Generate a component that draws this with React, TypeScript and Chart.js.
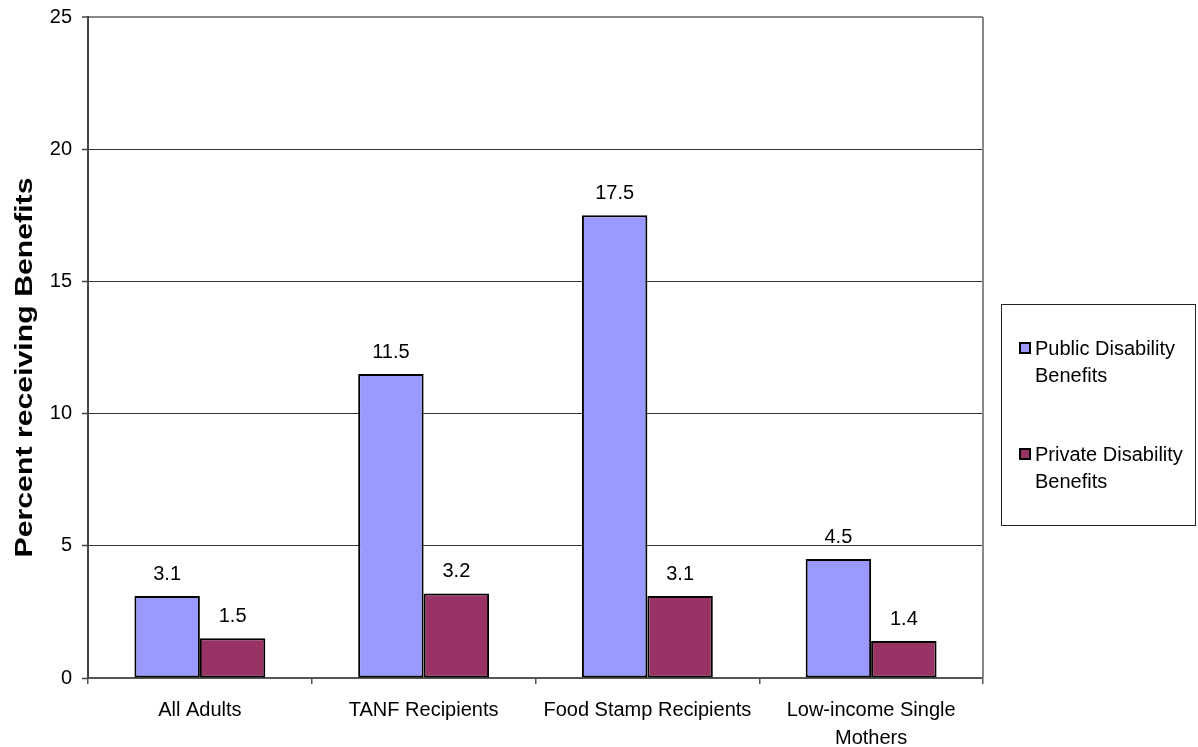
import React, { useEffect, useRef } from "react";
import { Chart, registerables } from "chart.js";

Chart.register(...registerables);

const categories: (string | string[])[] = [
  "All Adults",
  "TANF Recipients",
  "Food Stamp Recipients",
  ["Low-income Single", "Mothers"],
];
const publicBenefits = [3.1, 11.5, 17.5, 4.5];
const privateBenefits = [1.5, 3.2, 3.1, 1.4];
const seriesNames = ["Public Disability Benefits", "Private Disability Benefits"];
const legendLines = [
  ["Public Disability", "Benefits"],
  ["Private Disability", "Benefits"],
];
const seriesColors = ["#9999FF", "#993366"];
const yTitle = "Percent receiving Benefits";
const yMin = 0;
const yMax = 25;
const yStep = 5;

const FONT = "'Liberation Sans', Arial, sans-serif";

export default function App() {
  const canvasRef = useRef<HTMLCanvasElement | null>(null);

  useEffect(() => {
    const canvas = canvasRef.current;
    if (!canvas) return;

    const extras = {
      id: "extras",
      afterDatasetsDraw(chart: any) {
        const ctx = chart.ctx;
        const area = chart.chartArea;
        ctx.save();
        // right border of plot area
        ctx.strokeStyle = "#888";
        ctx.lineWidth = 2;
        ctx.beginPath();
        ctx.moveTo(area.right, area.top);
        ctx.lineTo(area.right, area.bottom);
        ctx.stroke();
        // data labels
        ctx.fillStyle = "#000";
        ctx.font = `20px ${FONT}`;
        ctx.textAlign = "center";
        ctx.textBaseline = "alphabetic";
        chart.data.datasets.forEach((ds: any, di: number) => {
          const meta = chart.getDatasetMeta(di);
          meta.data.forEach((bar: any, i: number) => {
            ctx.fillText(String(ds.data[i]), bar.x, bar.y - 16);
          });
        });
        ctx.restore();
      },
      afterDraw(chart: any) {
        const ctx = chart.ctx;
        const area = chart.chartArea;
        ctx.save();
        // y axis title, rotated
        ctx.font = `bold 24px ${FONT}`;
        ctx.fillStyle = "#000";
        const w = ctx.measureText(yTitle).width;
        const targetLen = 380;
        const cy = (area.top + area.bottom) / 2 + 20;
        ctx.translate(32, cy);
        ctx.rotate(-Math.PI / 2);
        ctx.scale(targetLen / w, 1);
        ctx.textAlign = "center";
        ctx.textBaseline = "alphabetic";
        ctx.fillText(yTitle, 0, 0);
        ctx.restore();

        // legend
        ctx.save();
        ctx.strokeStyle = "#222";
        ctx.lineWidth = 1;
        ctx.strokeRect(1001.5, 304.5, 194, 221);
        ctx.font = `20px ${FONT}`;
        ctx.textAlign = "left";
        ctx.textBaseline = "alphabetic";
        const itemTops = [343, 449];
        chart.data.datasets.forEach((ds: any, di: number) => {
          const top = itemTops[di];
          ctx.fillStyle = ds.backgroundColor;
          ctx.fillRect(1020, top, 10, 10);
          ctx.strokeStyle = "#000";
          ctx.lineWidth = 2;
          ctx.strokeRect(1020, top, 10, 10);
          ctx.fillStyle = "#000";
          legendLines[di].forEach((line, li) => {
            ctx.fillText(line, 1035, top + 12 + li * 27);
          });
        });
        ctx.restore();
      },
    };

    const chart = new Chart(canvas, {
      type: "bar",
      data: {
        labels: categories,
        datasets: [
          {
            label: seriesNames[0],
            data: publicBenefits,
            backgroundColor: seriesColors[0],
            borderColor: "#000",
            borderWidth: 2,
            borderSkipped: false,
          },
          {
            label: seriesNames[1],
            data: privateBenefits,
            backgroundColor: seriesColors[1],
            borderColor: "#000",
            borderWidth: 2,
            borderSkipped: false,
          },
        ],
      },
      options: {
        responsive: false,
        animation: false,
        events: [],
        layout: { padding: { top: 17, right: 215, bottom: 0, left: 0 } },
        datasets: {
          bar: { categoryPercentage: 0.585, barPercentage: 1 },
        } as any,
        plugins: {
          legend: { display: false },
          tooltip: { enabled: false },
          title: { display: false },
        },
        scales: {
          x: {
            grid: {
              offset: true,
              drawOnChartArea: false,
              drawTicks: true,
              tickLength: 6,
              color: "#555",
              lineWidth: 1.5,
            },
            border: { display: true, color: "#555", width: 2 },
            ticks: {
              color: "#000",
              font: { family: FONT, size: 20, lineHeight: 1.4 },
              padding: 12,
              maxRotation: 0,
              autoSkip: false,
            },
            afterFit(scale: any) {
              scale.height = 69;
              scale.paddingLeft = 0;
              scale.paddingRight = 0;
            },
          },
          y: {
            min: yMin,
            max: yMax,
            ticks: {
              stepSize: yStep,
              color: "#000",
              font: { family: FONT, size: 20 },
              padding: 10,
            },
            grid: {
              color: (c: any) => (c.tick && c.tick.value === yMax ? "#888" : "#333"),
              lineWidth: (c: any) => (c.tick && c.tick.value === yMax ? 2 : 1),
              tickLength: 6,
              tickColor: "#444",
              tickWidth: 1.5,
            },
            border: { display: true, color: "#444", width: 2 },
            afterFit(scale: any) {
              scale.width = 88;
              scale.paddingTop = 0;
              scale.paddingBottom = 0;
            },
          },
        },
      },
      plugins: [extras],
    });

    return () => {
      chart.destroy();
    };
  }, []);

  return (
    <div style={{ position: "absolute", left: 0, top: 0, width: 1198, height: 747, background: "#fff" }}>
      <canvas ref={canvasRef} width={1198} height={747} style={{ width: 1198, height: 747, display: "block" }} />
    </div>
  );
}
